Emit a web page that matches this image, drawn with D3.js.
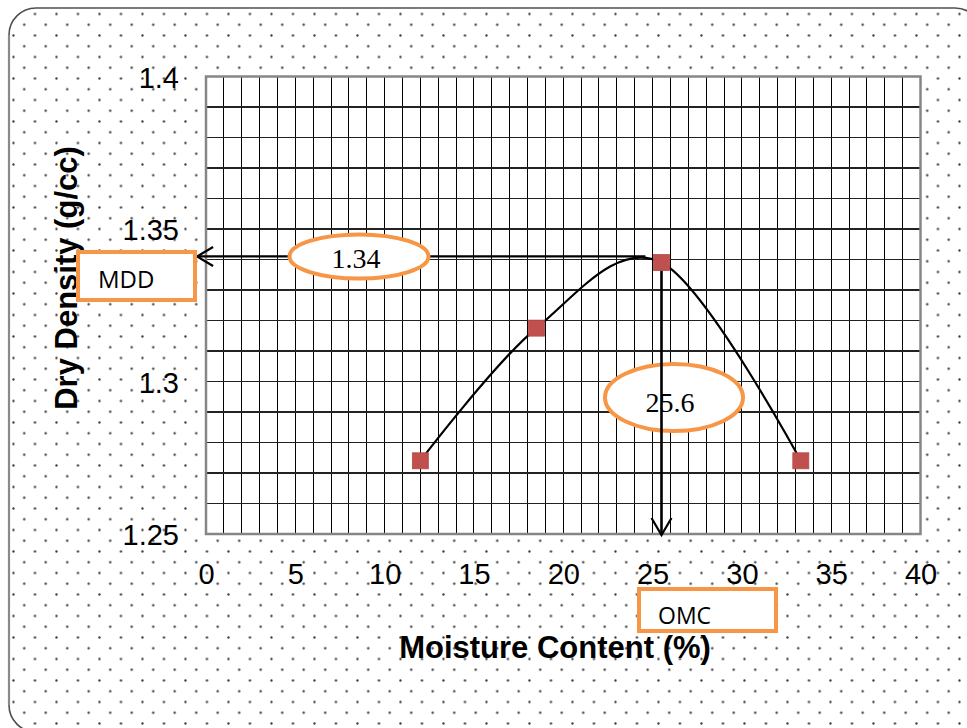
<!DOCTYPE html>
<html>
<head>
<meta charset="utf-8">
<script src="https://cdn.jsdelivr.net/npm/d3@7"></script>
<style>
  html, body { margin: 0; padding: 0; background: #fff; }
  svg { display: block; }
  .serif { font-family: "Liberation Serif", "Times New Roman", "DejaVu Serif", serif; }
  .sans { font-family: "Liberation Sans", Arial, sans-serif; }
  .cal { font-family: "Open Sans", "Liberation Sans", sans-serif; }
</style>
</head>
<body>
<svg id="chart" width="967" height="728"></svg>
<script>
// ---- data ----
const moisture = [12, 18.5, 25.5, 33.3];
const dryDensity = [1.274, 1.3175, 1.339, 1.274];
const xTickValues = [0, 5, 10, 15, 20, 25, 30, 35, 40];
const yTickValues = [1.25, 1.3, 1.35, 1.4];
const yTickLabels = ["1.25", "1.3", "1.35", "1.4"];
const xTitle = "Moisture Content (%)";
const yTitle = "Dry Density (g/cc)";
const mddLabel = "MDD", omcLabel = "OMC";
const mddValueText = "1.34", omcValueText = "25.6";
const mddArrowY = 1.341, mddArrowFromX = 24.6, mddArrowToX = -0.5;
const omcArrowX = 25.5;

// ---- layout ----
const svg = d3.select("#chart");
const plot = { left: 206, right: 920.5, top: 76.5, bottom: 534 };

const x = d3.scaleLinear().domain([0, 40]).range([plot.left, plot.right]);
const y = d3.scaleLinear().domain([1.25, 1.4]).range([plot.bottom, plot.top]);

const defs = svg.append("defs");
const pat = defs.append("pattern")
  .attr("id", "dots").attr("patternUnits", "userSpaceOnUse")
  .attr("x", 8.1).attr("y", 8.6).attr("width", 21.5).attr("height", 21.5);
pat.append("circle").attr("cx", 5.375).attr("cy", 5.375).attr("r", 1.15).attr("fill", "#3a3a3a");
pat.append("circle").attr("cx", 16.125).attr("cy", 16.125).attr("r", 1.15).attr("fill", "#3a3a3a");

// outer rounded frame with dotted fill
svg.append("rect")
  .attr("x", 9).attr("y", 8).attr("width", 973).attr("height", 724)
  .attr("rx", 27).attr("ry", 27)
  .attr("fill", "url(#dots)")
  .attr("stroke", "#505050").attr("stroke-width", 1.6);
svg.append("line").attr("x1", 9).attr("x2", 9).attr("y1", 35).attr("y2", 705)
  .attr("stroke", "#8a8a8a").attr("stroke-width", 2.2);

// plot area
svg.append("rect")
  .attr("x", plot.left).attr("y", plot.top)
  .attr("width", plot.right - plot.left).attr("height", plot.bottom - plot.top)
  .attr("fill", "#fff");

// grid lines
const g = svg.append("g").attr("shape-rendering", "crispEdges");
g.selectAll("line.v").data(d3.range(1, 40))
  .join("line").attr("class", "v")
  .attr("x1", d => x(d)).attr("x2", d => x(d))
  .attr("y1", plot.top).attr("y2", plot.bottom)
  .attr("stroke", "#000").attr("stroke-width", 1);
g.selectAll("line.h").data(d3.range(1, 15).map(i => 1.25 + i * 0.01))
  .join("line").attr("class", "h")
  .attr("y1", d => y(d)).attr("y2", d => y(d))
  .attr("x1", plot.left).attr("x2", plot.right)
  .attr("stroke", "#222").attr("stroke-width", 1.3);

// plot border
svg.append("rect")
  .attr("x", plot.left).attr("y", plot.top)
  .attr("width", plot.right - plot.left).attr("height", plot.bottom - plot.top)
  .attr("fill", "none").attr("stroke", "#868686").attr("stroke-width", 2.5);

// axes tick labels via d3 axes
const xAxis = d3.axisBottom(x).tickValues(xTickValues).tickSize(0).tickPadding(0).tickFormat(d3.format("d"));
const xg = svg.append("g").attr("transform", `translate(0,${plot.bottom})`).call(xAxis);
xg.attr("font-family", null).attr("font-size", null);
xg.select(".domain").remove();
xg.selectAll("text").attr("class", "sans").attr("font-size", 29)
  .attr("fill", "#000").attr("dy", null).attr("y", 50);

const yAxis = d3.axisLeft(y).tickValues(yTickValues).tickSize(0).tickPadding(0)
  .tickFormat((d, i) => yTickLabels[i]);
const yg = svg.append("g").attr("transform", `translate(${plot.left - 27},0)`).call(yAxis);
yg.attr("font-family", null).attr("font-size", null);
yg.select(".domain").remove();
yg.selectAll("text").attr("class", "sans").attr("font-size", 29)
  .attr("fill", "#000").attr("dy", null).attr("y", 10.5);

// axis titles
svg.append("text").attr("class", "sans")
  .attr("x", 555).attr("y", 658)
  .attr("text-anchor", "middle").attr("font-weight", "bold")
  .attr("font-size", 31).attr("fill", "#000")
  .text(xTitle);
svg.append("text").attr("class", "sans")
  .attr("transform", `translate(77,278) rotate(-90)`)
  .attr("text-anchor", "middle").attr("font-weight", "bold")
  .attr("font-size", 31).attr("fill", "#000")
  .text(yTitle);

// smoothed line (Excel-style smoothing = uniform Catmull-Rom)
const pts = moisture.map((m, i) => [m, dryDensity[i]]);
const line = d3.line().x(d => x(d[0])).y(d => y(d[1])).curve(d3.curveCatmullRom.alpha(0));
svg.append("path").datum(pts)
  .attr("d", line).attr("fill", "none")
  .attr("stroke", "#000").attr("stroke-width", 2.2);

const orange = "#F79646";
const arrowStroke = 2.2;

// MDD horizontal arrow (below the 1.34 ellipse)
svg.append("line")
  .attr("x1", x(mddArrowFromX)).attr("x2", x(mddArrowToX))
  .attr("y1", y(mddArrowY)).attr("y2", y(mddArrowY))
  .attr("stroke", "#000").attr("stroke-width", arrowStroke);
svg.append("path")
  .attr("d", `M${x(mddArrowToX) + 16},${y(mddArrowY) - 9.5} L${x(mddArrowToX)},${y(mddArrowY)} L${x(mddArrowToX) + 16},${y(mddArrowY) + 9.5}`)
  .attr("fill", "none").attr("stroke", "#000").attr("stroke-width", arrowStroke);

// 1.34 ellipse on top of the arrow
svg.append("ellipse").attr("cx", 359).attr("cy", 256.5).attr("rx", 69.5).attr("ry", 22)
  .attr("fill", "#fff").attr("stroke", orange).attr("stroke-width", 4);
svg.append("text").attr("class", "serif").attr("x", 356).attr("y", 268).attr("text-anchor", "middle")
  .attr("font-size", 28).attr("fill", "#000").text(mddValueText);

// 25.6 ellipse below the vertical arrow
svg.append("ellipse").attr("cx", 674).attr("cy", 397.5).attr("rx", 69).attr("ry", 33.5)
  .attr("fill", "#fff").attr("stroke", orange).attr("stroke-width", 4);
svg.append("text").attr("class", "serif").attr("x", 670).attr("y", 411.5).attr("text-anchor", "middle")
  .attr("font-size", 28).attr("fill", "#000").text(omcValueText);

// OMC vertical arrow
svg.append("line")
  .attr("x1", x(omcArrowX)).attr("x2", x(omcArrowX))
  .attr("y1", y(dryDensity[2])).attr("y2", y(1.25) + 1)
  .attr("stroke", "#000").attr("stroke-width", 2.6);
svg.append("path")
  .attr("d", `M${x(omcArrowX) - 10},${y(1.25) - 16} L${x(omcArrowX)},${y(1.25) + 1} L${x(omcArrowX) + 10},${y(1.25) - 16}`)
  .attr("fill", "none").attr("stroke", "#000").attr("stroke-width", arrowStroke);

// markers
svg.selectAll("rect.mk").data(pts).join("rect").attr("class", "mk")
  .attr("x", d => x(d[0]) - 8).attr("y", d => y(d[1]) - 8)
  .attr("width", 16).attr("height", 16)
  .attr("fill", "#C0504D").attr("stroke", "#B9484A").attr("stroke-width", 0.8);

// label boxes
svg.append("rect").attr("x", 78).attr("y", 252).attr("width", 117).attr("height", 48)
  .attr("fill", "#fff").attr("stroke", orange).attr("stroke-width", 4);
svg.append("text").attr("class", "cal").attr("x", 98).attr("y", 288)
  .attr("font-size", 24).attr("fill", "#000").text(mddLabel);
svg.append("rect").attr("x", 639).attr("y", 589).attr("width", 137).attr("height", 42)
  .attr("fill", "#fff").attr("stroke", orange).attr("stroke-width", 4);
svg.append("text").attr("class", "cal").attr("x", 658).attr("y", 623.5)
  .attr("font-size", 23).attr("fill", "#000").text(omcLabel);
</script>
</body>
</html>
